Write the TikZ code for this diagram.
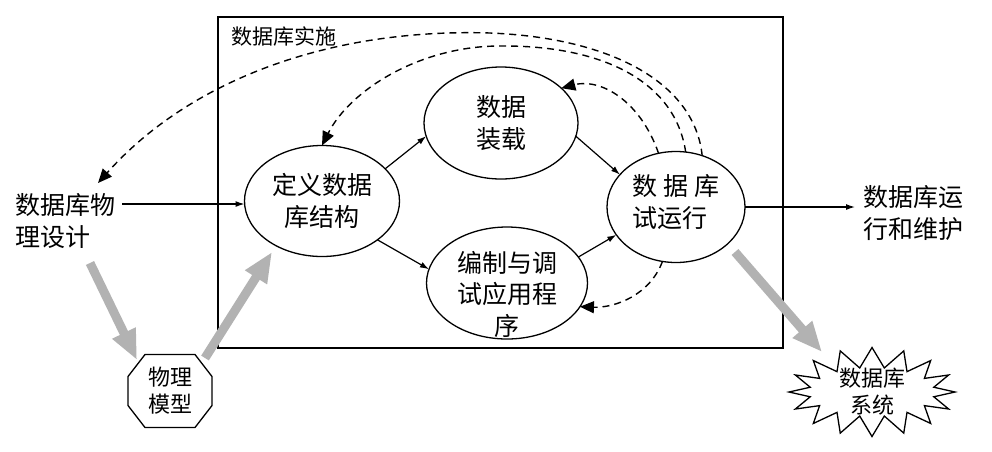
\documentclass[tikz,border=0pt]{standalone}
\usepackage{fontspec}
\setmainfont{Noto Sans CJK SC}
\usetikzlibrary{shapes.geometric,shapes.misc,shapes.symbols,arrows.meta}
\begin{document}
\begin{tikzpicture}[x=1pt,y=-1pt,
  every node/.style={inner sep=0pt,outer sep=0pt},
  big/.style={font=\fontsize{25}{31.5}\selectfont},
  mid/.style={font=\fontsize{22}{27}\selectfont},
  small/.style={font=\fontsize{21}{24}\selectfont},
  oval/.style={ellipse,draw,line width=1.3pt},
  flow/.style={line width=1.2pt,-{Latex[length=9pt,width=6pt]}},
  fb/.style={line width=1.4pt,dash pattern=on 7pt off 5pt,-{Triangle[length=14pt,width=12pt]}},
  fat/.style={draw=gray!60,line width=9pt,-{Triangle[length=30pt,width=24pt]}}]
\useasboundingbox (0,0) rectangle (992,451);
\fill[white] (0,0) rectangle (992,451);

% frame
\node[draw,line width=1.8pt,minimum width=565pt,minimum height=331pt] (impl) at (500.5,182.5) {};
\node[small] (impltxt) at (284,36) {数据库实施};

% ellipses
\node[oval,big,align=center,minimum width=155pt,minimum height=111pt] (def) at (322,201) {定义数据\\库结构};
\node[oval,big,align=center,minimum width=154pt,minimum height=112pt] (load) at (501,123) {数据\\装载};
\node[oval,minimum width=161pt,minimum height=112pt] (prog) at (507,283) {};
\node[big,align=center] (progt) at (507,294) {编制与调\\试应用程\\序};
\node[oval,minimum width=138pt,minimum height=111pt] (run) at (676,207) {};
\node[big,align=left] (runt) at (676,202) {数 据 库\\试运行};

% outside texts
\node[big,align=left,anchor=west] (phys) at (15,221) {数据库物\\理设计};
\node[big,align=left,anchor=west] (maint) at (863,213) {数据库运\\行和维护};

% octagon
\node[mid,align=center,minimum width=84pt,minimum height=73pt] (oct) at (170,391) {物理\\模型};
\draw[line width=1.3pt] ([xshift=17pt]oct.north west) -- ([xshift=-17pt]oct.north east)
  -- ([yshift=-22pt]oct.north east) -- ([yshift=22pt]oct.south east)
  -- ([xshift=-17pt]oct.south east) -- ([xshift=17pt]oct.south west)
  -- ([yshift=22pt]oct.south west) -- ([yshift=-22pt]oct.north west) -- cycle;

% starburst
\node[starburst,draw,line width=1.3pt,starburst points=16,starburst point height=20pt,
      random starburst=0,minimum width=166pt,minimum height=89pt,fill=white] (sys) at (872,392) {};
\node[mid,align=center] (syst) at (872,392) {数据库\\系统};

% solid flows
\draw[flow] ([shift={(7,-17)}]phys.east) coordinate (pa) -- (pa -| def.west);
\draw[flow] (def.27) -- (load.190);
\draw[flow] (def.-35) -- (prog.170);
\draw[flow] (load.-10) -- (run.150);
\draw[flow] (prog.20) -- (run.205);
\draw[flow] (run.east) coordinate (ra) -- ([xshift=-8pt]ra -| maint.west);

% dashed feedback
\coordinate (physin) at (98,183);
\draw[fb] (run.63) .. controls (695,85) and (615,38) .. (490,33)
                  .. controls (330,28) and (190,80) .. (physin);
\draw[fb] (run.80) .. controls (675,80) and (600,45) .. (500,46)
                  .. controls (420,46) and (350,90) .. (def.north);
\draw[fb] (run.108) .. controls (640,100) and (600,78) .. (load.30);
\draw[fb] (run.256) .. controls (650,295) and (615,308) .. (prog.-18);

% gray arrows
\coordinate (g1a) at (90,263);  \coordinate (g1b) at (137,360);
\coordinate (g2a) at (205,358); \coordinate (g2b) at (272,252);
\coordinate (g3a) at (735,252); \coordinate (g3b) at (822,352);
\draw[fat] (g1a) -- (g1b);
\draw[fat] (g2a) -- (g2b);
\draw[fat] (g3a) -- (g3b);
\end{tikzpicture}
\end{document}
